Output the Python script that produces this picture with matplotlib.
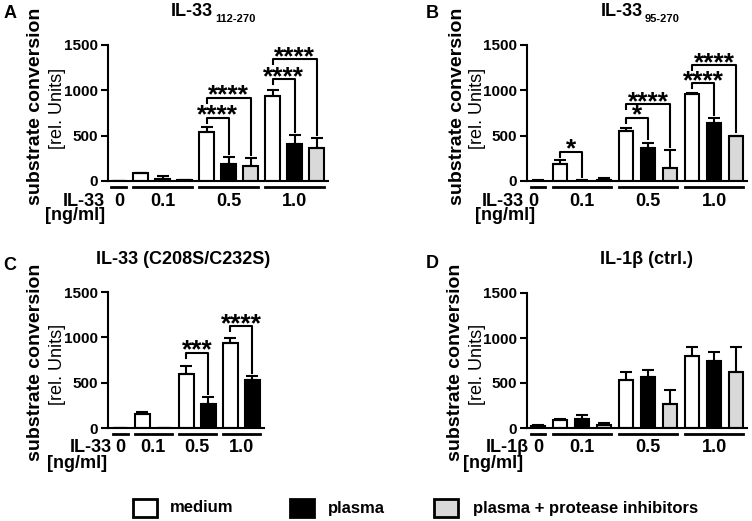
import matplotlib.pyplot as plt
from matplotlib.patches import Rectangle

plt.rcParams['font.family'] = ['Liberation Sans', 'DejaVu Sans']

W, H = 752, 521

conc_labels = ['0', '0.1', '0.5', '1.0']
treatments = ['medium', 'plasma', 'plasma + protease inhibitors']
fills = ['white', 'black', '#d9d9d9']

# slot -> treatment, and (first slot, last slot) per concentration
kind_full = [0, 0, 1, 2, 0, 1, 2, 0, 1, 2]
groups_full = [(0, 0), (1, 3), (4, 6), (7, 9)]
kind_c = [0, 0, 1, 0, 1, 0, 1]
groups_c = [(0, 0), (1, 2), (3, 4), (5, 6)]

# substrate conversion [rel. Units], mean and upper error
a_mean = [0, 85, 25, 10, 537, 187, 169, 937, 408, 367]
a_err = [0, 8, 25, 6, 62, 80, 83, 66, 100, 104]
b_mean = [5, 184, 5, 15, 551, 367, 147, 960, 636, 496]
b_err = [3, 48, 5, 20, 37, 56, 195, 10, 55, 4]
c_mean = [0, 151, 0, 600, 269, 937, 526]
c_err = [0, 25, 0, 88, 70, 60, 44]
d_mean = [20, 85, 100, 37, 529, 566, 267, 803, 744, 622]
d_err = [12, 18, 45, 18, 89, 74, 151, 93, 96, 278]

# significance brackets: (left slot, right slot, height, stars)
a_sig = [(4, 5, 698, '****'), (4, 6, 919, '****'),
         (7, 8, 1121, '****'), (7, 9, 1346, '****')]
b_sig = [(1, 2, 323, '*'), (4, 5, 698, '*'), (4, 6, 846, '****'),
         (7, 8, 1077, '****'), (7, 9, 1279, '****')]
c_sig = [(3, 4, 832, '***'), (5, 6, 1122, '****')]
d_sig = []

fig = plt.figure(figsize=(W / 100, H / 100), dpi=100)

# overlay in pixel coords for figure-level text and legend
ov = fig.add_axes([0, 0, 1, 1], zorder=-1)
ov.set_xlim(0, W)
ov.set_ylim(H, 0)
ov.axis('off')


def panel(left, top, bottom, width, xlim, mean, err, kind, groups, sig,
          dose, dose_dx, unit_dx, zero_dx=0):
    ax = fig.add_axes([left / W, 1 - bottom / H, width / W, (bottom - top) / H])
    x = list(range(len(mean)))
    for i in x:
        ax.bar(i, mean[i], width=0.68, color=fills[kind[i]], edgecolor='black',
               linewidth=1.5, yerr=[[0], [err[i]]], capsize=4,
               error_kw=dict(elinewidth=1.5, capthick=1.5), zorder=2)
    ax.set_xlim(*xlim)
    ax.set_ylim(0, 1500)
    ax.set_xticks([])
    ax.set_yticks([0, 500, 1000, 1500])
    ax.tick_params(axis='y', direction='out', length=5, width=1.5, labelsize=11, pad=2)
    plt.setp(ax.get_yticklabels(), fontweight='bold')
    for s in ['top', 'right']:
        ax.spines[s].set_visible(False)
    for s in ['left', 'bottom']:
        ax.spines[s].set_linewidth(1.5)

    tr = ax.get_xaxis_transform()
    for j, ((g0, g1), lab) in enumerate(zip(groups, conc_labels)):
        ax.plot([g0 - 0.34, g1 + 0.34], [-0.045, -0.045], color='black', lw=2,
                transform=tr, clip_on=False)
        ax.annotate(lab, xy=((g0 + g1) / 2, 0), xycoords=tr,
                    xytext=(zero_dx if j == 0 else 0, -20),
                    textcoords='offset pixels', ha='center', va='center',
                    fontsize=13, fontweight='bold')
    ax.annotate(dose, xy=(0, 0), xycoords='axes fraction', xytext=(dose_dx, -20),
                textcoords='offset pixels', ha='right', va='center',
                fontsize=13, fontweight='bold')
    ax.annotate('[ng/ml]', xy=(0, 0), xycoords='axes fraction', xytext=(unit_dx, -35),
                textcoords='offset pixels', ha='right', va='center',
                fontsize=13, fontweight='bold')

    for i1, i2, y, stars in sig:
        yr = mean[i2] + err[i2] + 35
        ax.plot([i1, i1, i2, i2], [y - 55, y, y, yr], color='black', lw=1.5,
                clip_on=False, zorder=3)
        ax.annotate(stars, xy=((i1 + i2) / 2, y), xytext=(0, -5),
                    textcoords='offset pixels', ha='center', va='baseline',
                    fontsize=19, fontweight='bold', annotation_clip=False)
    return ax


panel(107.5, 45, 181, 220, (-0.52, 9.48), a_mean, a_err, kind_full, groups_full,
      a_sig, 'IL-33', -2.5, -2.5)
panel(527, 45, 181, 220, (-0.5, 9.5), b_mean, b_err, kind_full, groups_full,
      b_sig, 'IL-33', -3, 8, zero_dx=-5)
panel(108, 292, 428, 156.2, (-0.55, 6.55), c_mean, c_err, kind_c, groups_c,
      c_sig, 'IL-33', 4, -1)
panel(527, 293, 428, 220, (-0.5, 9.5), d_mean, d_err, kind_full, groups_full,
      d_sig, 'IL-1β', 2, -4)

# panel letters
for lx, ly, letter in [(10, 14, 'A'), (432, 14, 'B'), (10, 265, 'C'), (432, 263, 'D')]:
    ov.text(lx, ly, letter, ha='center', va='center', fontsize=13, fontweight='bold')

# titles
ov.text(213, 12, 'IL-33', ha='right', va='center', fontsize=13, fontweight='bold')
ov.text(215, 19, '112-270', ha='left', va='center', fontsize=8, fontweight='bold')
ov.text(643, 12, 'IL-33', ha='right', va='center', fontsize=13, fontweight='bold')
ov.text(645, 19, '95-270', ha='left', va='center', fontsize=8, fontweight='bold')
ov.text(183.5, 259, 'IL-33 (C208S/C232S)', ha='center', va='center', fontsize=13, fontweight='bold')
ov.text(646, 259, 'IL-1β (ctrl.)', ha='center', va='center', fontsize=13, fontweight='bold')

# y labels
for bx, nx, cy in [(36, 57, 106), (457, 477, 106), (36, 57, 362), (455, 478, 362)]:
    ov.text(bx, cy, 'substrate conversion', rotation=90, ha='center', va='center',
            fontsize=14, fontweight='bold')
    ov.text(nx, cy + 2, '[rel. Units]', rotation=90, ha='center', va='center', fontsize=13)

# legend
for sx, tx, col, lab in zip([133, 290, 434], [170, 328, 473], fills, treatments):
    ov.add_patch(Rectangle((sx, 499), 24, 18, facecolor=col, edgecolor='black', lw=2))
    ov.text(tx, 508, lab, ha='left', va='center', fontsize=12, fontweight='bold')

fig.savefig('out.png', dpi=100)
